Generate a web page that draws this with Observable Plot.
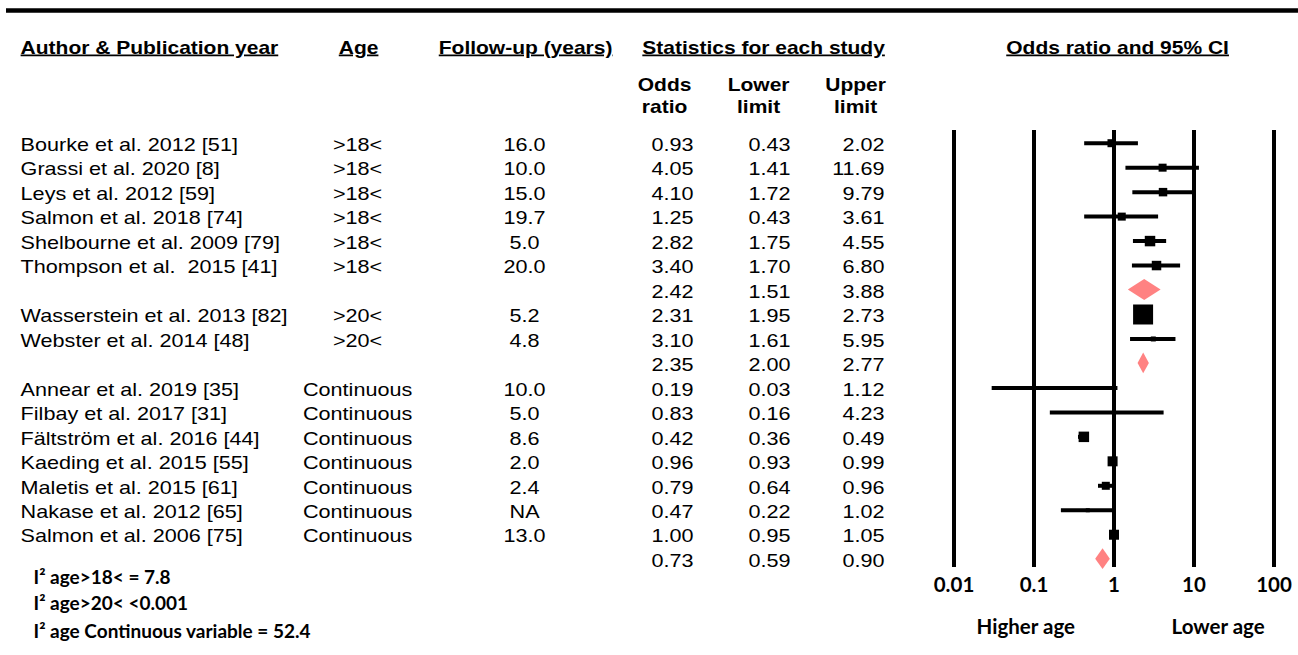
<!DOCTYPE html>
<html><head><meta charset="utf-8">
<script src="https://cdn.jsdelivr.net/npm/d3@7"></script>
<script src="https://cdn.jsdelivr.net/npm/@observablehq/plot@0.6"></script>
<style>
body{margin:0;background:#fff;}
#wrap{position:relative;width:1298px;height:655px;overflow:hidden;background:#fff;}
#wrap svg{position:absolute;top:0;}
</style></head><body><div id="wrap"></div>
<script>
// ---------- data ----------
const authors = ["Bourke et al. 2012 [51]", "Grassi et al. 2020 [8]", "Leys et al. 2012 [59]", "Salmon et al. 2018 [74]",
  "Shelbourne et al. 2009 [79]", "Thompson et al.  2015 [41]", null,
  "Wasserstein et al. 2013 [82]", "Webster et al. 2014 [48]", null,
  "Annear et al. 2019 [35]", "Filbay et al. 2017 [31]", "Fältström et al. 2016 [44]", "Kaeding et al. 2015 [55]",
  "Maletis et al. 2015 [61]", "Nakase et al. 2012 [65]", "Salmon et al. 2006 [75]", null];
const ages = [">18<", ">18<", ">18<", ">18<", ">18<", ">18<", null, ">20<", ">20<", null,
  "Continuous", "Continuous", "Continuous", "Continuous", "Continuous", "Continuous", "Continuous", null];
const followUp = ["16.0", "10.0", "15.0", "19.7", "5.0", "20.0", null, "5.2", "4.8", null,
  "10.0", "5.0", "8.6", "2.0", "2.4", "NA", "13.0", null];
const oddsRatio  = [0.93, 4.05, 4.10, 1.25, 2.82, 3.40, 2.42, 2.31, 3.10, 2.35, 0.19, 0.83, 0.42, 0.96, 0.79, 0.47, 1.00, 0.73];
const lowerLimit = [0.43, 1.41, 1.72, 0.43, 1.75, 1.70, 1.51, 1.95, 1.61, 2.00, 0.03, 0.16, 0.36, 0.93, 0.64, 0.22, 0.95, 0.59];
const upperLimit = [2.02, 11.69, 9.79, 3.61, 4.55, 6.80, 3.88, 2.73, 5.95, 2.77, 1.12, 4.23, 0.49, 0.99, 0.96, 1.02, 1.05, 0.90];
const rowKind = ["study","study","study","study","study","study","pooled","study","study","pooled",
  "study","study","study","study","study","study","study","pooled"];
// relative study weights (box area)
const boxWeight = [64, 64, 72, 64, 110, 90, null, 400, 25, null, 6, 6, 110, 100, 64, 16, 100, null];
const tickLabels = ["0.01", "0.1", "1", "10", "100"];
const directionLabels = ["Higher age", "Lower age"];
const heterogeneity = ["I\u00B2 age>18< = 7.8", "I\u00B2 age>20< <0.001", "I\u00B2 age Continuous variable = 52.4"];
const headers = ["Author & Publication year", "Age", "Follow-up (years)", "Statistics for each study", "Odds ratio and 95% CI"];
const subHeaders = [["Odds", "ratio"], ["Lower", "limit"], ["Upper", "limit"]];

// ---------- table ----------
const rows = authors.map((a, i) => ({
  i, author: a, age: ages[i], fu: followUp[i],
  or: oddsRatio[i], lo: lowerLimit[i], hi: upperLimit[i], kind: rowKind[i], w: boxWeight[i]
}));
const studies = rows.filter(d => d.kind === "study");
const pooled = rows.filter(d => d.kind === "pooled");

const W = 1298, H = 655, STRETCH = 1.2;
const Y0 = 142.7, Y1 = 558.7;
const yScale = {domain: [0, 17], range: [Y0, Y1], axis: null};
const py = px => (px - Y0) / ((Y1 - Y0) / 17);  // pixel row -> row index (for labels)
const fmt2 = v => v.toFixed(2);
const baseStyle = {background: "transparent", overflow: "visible", color: "black"};

const table = Plot.plot({
  width: W / STRETCH, height: H, margin: 0,
  x: {domain: [0, W], range: [0, W / STRETCH], axis: null},
  y: yScale,
  style: {...baseStyle, fontFamily: "'Liberation Sans', Arial, Helvetica, sans-serif"},
  marks: [
    Plot.ruleY([py(10)], {x1: () => 6, x2: () => W, strokeWidth: 4.5, stroke: "black"}),
    // headers
    Plot.text([headers[0]], {x: () => 20, y: () => py(47.5), text: d => d, textAnchor: "start", fontSize: 17.5, fontWeight: "bold", fill: "black"}),
    Plot.text([headers[1]], {x: () => 358, y: () => py(47.5), text: d => d, fontSize: 17.5, fontWeight: "bold", fill: "black"}),
    Plot.text([headers[2]], {x: () => 525, y: () => py(47.5), text: d => d, fontSize: 17.5, fontWeight: "bold", fill: "black"}),
    Plot.text([headers[3]], {x: () => 763, y: () => py(47.5), text: d => d, fontSize: 17.5, fontWeight: "bold", fill: "black"}),
    Plot.text([headers[4]], {x: () => 1117, y: () => py(47.5), text: d => d, fontSize: 17.5, fontWeight: "bold", fill: "black"}),
    Plot.text(subHeaders, {x: (d, k) => [664, 758, 855][k], y: () => py(84.5), text: d => d[0], fontSize: 17.5, fontWeight: "bold", fill: "black"}),
    Plot.text(subHeaders, {x: (d, k) => [664, 758, 855][k], y: () => py(107), text: d => d[1], fontSize: 17.5, fontWeight: "bold", fill: "black"}),
    // rows
    Plot.text(studies, {x: () => 20, y: "i", text: "author", textAnchor: "start", fontSize: 18, dy: 2, fill: "black"}),
    Plot.text(studies, {x: () => 357, y: "i", text: "age", fontSize: 18, dy: 2, fill: "black"}),
    Plot.text(studies, {x: () => 524, y: "i", text: "fu", fontSize: 18, dy: 2, fill: "black"}),
    Plot.text(rows, {x: () => 693, y: "i", text: d => fmt2(d.or), textAnchor: "end", fontSize: 18, dy: 2, fill: "black"}),
    Plot.text(rows, {x: () => 790, y: "i", text: d => fmt2(d.lo), textAnchor: "end", fontSize: 18, dy: 2, fill: "black"}),
    Plot.text(rows, {x: () => 884, y: "i", text: d => fmt2(d.hi), textAnchor: "end", fontSize: 18, dy: 2, fill: "black"})
  ]
});
table.querySelectorAll("text").forEach(t => {
  t.style.whiteSpace = "pre";
  if (headers.includes(t.textContent)) {
    t.style.textDecoration = "underline";
    t.style.textUnderlineOffset = "6px";
  }
});
table.style.transform = `scaleX(${STRETCH})`;
table.style.transformOrigin = "0 0";
table.style.left = "0px";

// ---------- forest plot ----------
const FX = 930;
const diamondPts = pooled.flatMap(d => [
  {g: d.i, x: d.lo, y1: d.i, y2: d.i},
  {g: d.i, x: d.or, y1: d.i - 0.425, y2: d.i + 0.425},
  {g: d.i, x: d.hi, y1: d.i, y2: d.i}
]);
const forest = Plot.plot({
  width: W - FX, height: H,
  marginLeft: 953.5 - FX, marginRight: W - 1273.5, marginTop: 0, marginBottom: 0,
  x: {type: "log", domain: [0.01, 100], axis: null},
  y: yScale,
  r: {type: "sqrt", domain: [0, 400], range: [0, 20 / Math.sqrt(Math.PI)]},
  style: {...baseStyle, fontFamily: "Lato, 'Open Sans', sans-serif"},
  marks: [
    Plot.ruleX(tickLabels, {x: d => +d, y1: () => py(130), y2: () => py(567), strokeWidth: 4, stroke: "black"}),
    Plot.ruleY(studies, {y: "i", x1: "lo", x2: "hi", strokeWidth: 4, stroke: "black"}),
    Plot.dot(studies, {x: "or", y: "i", r: "w", symbol: "square", fill: "black", stroke: "none"}),
    Plot.areaY(diamondPts, {x: "x", y1: "y1", y2: "y2", z: "g", fill: "#ff8282", curve: "linear"}),
    Plot.text(tickLabels, {x: d => +d, y: () => py(585), text: d => d, fontSize: 20.5, fontWeight: "bold", fill: "black"}),
    Plot.text(directionLabels, {x: (d, k) => [0.079, 20][k], y: () => py(627), text: d => d, fontSize: 20.5, fontWeight: "bold", fill: "black"})
  ]
});
forest.style.left = FX + "px";

// ---------- heterogeneity notes ----------
const notes = Plot.plot({
  width: FX, height: H, margin: 0,
  x: {domain: [0, FX], range: [0, FX], axis: null},
  y: yScale,
  style: {...baseStyle, fontFamily: "Lato, 'Open Sans', sans-serif"},
  marks: [
    Plot.text(heterogeneity, {x: () => 33, y: (d, k) => py([577, 603, 631][k]), text: d => d, textAnchor: "start", fontSize: 19, fontWeight: "bold", fill: "black"})
  ]
});
notes.style.left = "0px";

const wrap = document.getElementById("wrap");
wrap.append(table, forest, notes);
</script></body></html>
